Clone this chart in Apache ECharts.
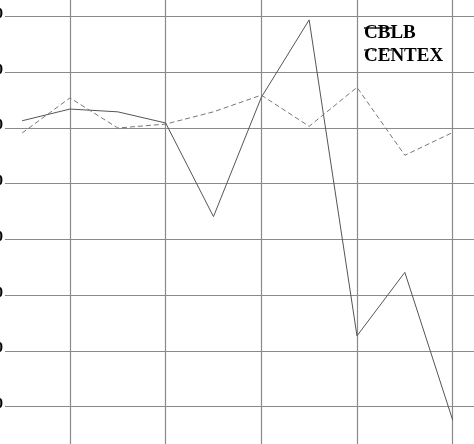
<!DOCTYPE html>
<html>
<head>
<meta charset="utf-8">
<script src="https://cdn.jsdelivr.net/npm/echarts@6/dist/echarts.min.js"></script>
<style>
  html, body { margin: 0; padding: 0; background: #fff; overflow: hidden; }
  /* chart is larger than the window: the axes sit just outside the visible area */
  #chart { position: absolute; left: -40px; top: -50px; width: 560px; height: 540px; }
</style>
</head>
<body>
<div id="chart"></div>
<script>
// x positions of the ten observations (1..10)
const periods = [1, 2, 3, 4, 5, 6, 7, 8, 9, 10];
const cblb = [61.3, 63.4, 62.9, 60.9, 44.1, 65.5, 79.4, 22.7, 34.1, 7.6];
const centex = [59.1, 65.4, 60.0, 60.7, 62.9, 65.9, 60.3, 67.3, 55.1, 59.2];
const seriesNames = ["CBLB", "CENTEX"];

let dom = document.getElementById("chart");
let myChart = echarts.init(dom, null, { renderer: "canvas" });

const serif = "Liberation Serif";

function pairs(values) {
  return values.map((v, i) => [periods[i], v]);
}

let option = {
  animation: false,
  backgroundColor: "#fff",
  grid: {
    left: 14.3,
    right: 19.5,
    top: 10.8,
    bottom: 27.6,
    containLabel: false,
    outerBoundsMode: "none",
  },
  legend: {
    data: seriesNames,
    orient: "vertical",
    left: 398,
    top: 69,
    itemWidth: 28,
    itemHeight: 10,
    itemGap: 3.1,
    itemStyle: { opacity: 0 },
    formatter: "{t|{name}}",
    textStyle: {
      color: "#000",
      padding: [0, 0, 0, -33],
      rich: {
        t: {
          fontFamily: serif,
          fontWeight: "bold",
          fontSize: 19,
          color: "#000",
          padding: [11, 0, 0, 0],
        },
      },
    },
  },
  xAxis: {
    type: "value",
    min: 0,
    max: 11,
    interval: 2,
    axisLine: { show: false },
    axisTick: { show: false },
    axisLabel: { show: false },
    splitLine: { show: true, lineStyle: { color: "#8a8a8a", width: 1.2 } },
  },
  yAxis: {
    type: "value",
    min: 0,
    max: 90,
    interval: 10,
    offset: -30.7,
    axisLine: { show: false },
    axisTick: { show: false },
    axisLabel: {
      margin: 0,
      backgroundColor: "#fff",
      padding: [0, 2, 0, 20],
      formatter: "{v|{value}}",
      rich: {
        v: {
          color: "#000",
          fontFamily: serif,
          fontWeight: "bold",
          fontSize: 15,
          padding: [0, 0, 5, 0],
        },
      },
    },
    splitLine: { show: true, lineStyle: { color: "#8a8a8a", width: 1.2 } },
  },
  series: [
    {
      name: seriesNames[0],
      type: "line",
      symbol: "none",
      data: pairs(cblb),
      lineStyle: { color: "#555", width: 1, type: "solid" },
      itemStyle: { color: "#555" },
    },
    {
      name: seriesNames[1],
      type: "line",
      symbol: "none",
      data: pairs(centex),
      lineStyle: { color: "#777", width: 1, type: [5, 3] },
      itemStyle: { color: "#777" },
    },
  ],
};

myChart.setOption(option);

window.addEventListener("resize", function () {
  if (myChart) {
    myChart.resize();
  }
});
</script>
</body>
</html>
